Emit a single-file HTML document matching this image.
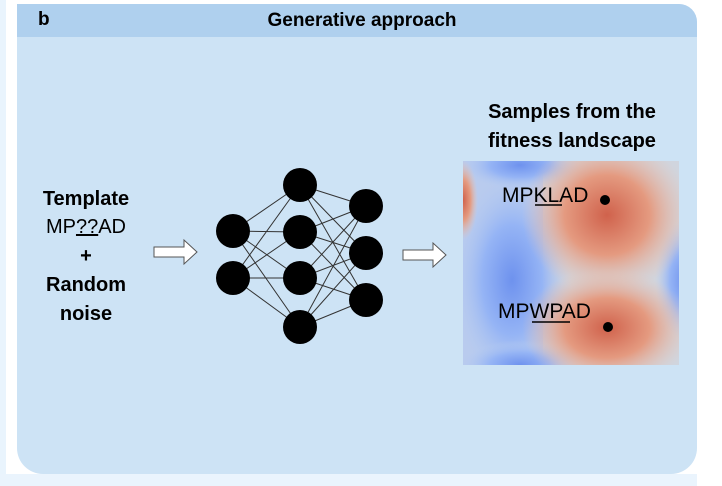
<!DOCTYPE html>
<html><head><style>
html,body{margin:0;padding:0;width:722px;height:486px;overflow:hidden;background:#fff;font-family:"Liberation Sans",sans-serif}
.strip{position:absolute;left:0;top:0;width:6px;height:486px;background:#e9f4fd}
.bot{position:absolute;left:0;top:474px;width:697px;height:12px;background:#eaf4fd}
.panel{position:absolute;left:17px;top:4px;width:680px;height:470px;background:#cde3f5;border-radius:0 18px 26px 26px;overflow:hidden}
.hdr{position:absolute;left:0;top:0;width:680px;height:33px;background:#afd0ee}
.t{position:absolute;color:#000;white-space:nowrap;font-size:20px}
.b{font-weight:bold}
</style></head><body>
<div class="strip"></div><div class="bot"></div>
<div class="panel">
<div class="hdr"></div>
<div class="t b" style="left:21px;top:5px;font-size:19px">b</div>
<div class="t b" style="left:0;width:680px;text-align:center;top:6px;font-size:19px;padding-left:10px;box-sizing:border-box">Generative approach</div>
</div>
<div class="t b" style="left:6px;width:160px;text-align:center;top:188px">Template</div>
<div class="t" style="left:6px;width:160px;text-align:center;top:216px">MP<u>??</u>AD</div>
<div class="t b" style="left:6px;width:160px;text-align:center;top:245px">+</div>
<div class="t b" style="left:6px;width:160px;text-align:center;top:274px">Random</div>
<div class="t b" style="left:6px;width:160px;text-align:center;top:303px">noise</div>
<div class="t b" style="left:462px;width:220px;text-align:center;top:101px">Samples from the</div>
<div class="t b" style="left:462px;width:220px;text-align:center;top:130px">fitness landscape</div>
<svg style="position:absolute;left:0;top:0" width="722" height="486">
<defs>
<radialGradient id="r1" cx="0.5" cy="0.5" r="0.5"><stop offset="0" stop-color="#d0624c"/><stop offset="0.5" stop-color="#e49a80"/><stop offset="1" stop-color="#e9c4b4" stop-opacity="0"/></radialGradient>
<radialGradient id="bl" cx="0.5" cy="0.5" r="0.5"><stop offset="0" stop-color="#6e92ee"/><stop offset="0.5" stop-color="#95b4f5"/><stop offset="1" stop-color="#b8cdf0" stop-opacity="0"/></radialGradient>
<clipPath id="cp"><rect x="463" y="161" width="216" height="204"/></clipPath>
</defs>
<g clip-path="url(#cp)">
<rect x="463" y="161" width="216" height="204" fill="#d0d5de"/>
<rect x="463" y="161" width="80" height="204" fill="#b9cbee"/>
<ellipse cx="512" cy="280" rx="60" ry="110" fill="url(#bl)"/>
<ellipse cx="520" cy="165" rx="60" ry="25" fill="url(#bl)"/>
<ellipse cx="520" cy="365" rx="60" ry="25" fill="url(#bl)"/>
<ellipse cx="685" cy="280" rx="30" ry="60" fill="url(#bl)"/>
<ellipse cx="607" cy="215" rx="85" ry="80" fill="url(#r1)"/>
<ellipse cx="607" cy="328" rx="85" ry="60" fill="url(#r1)"/>
<ellipse cx="463" cy="200" rx="15" ry="40" fill="url(#r1)"/>
</g>
<text x="502" y="202" font-size="21" font-family="Liberation Sans">MPKLAD</text>
<line x1="535" y1="205" x2="562" y2="205" stroke="#000" stroke-width="1.5"/>
<circle cx="605" cy="200" r="5" fill="#000"/>
<text x="498" y="318" font-size="21" font-family="Liberation Sans">MPWPAD</text>
<line x1="532" y1="322" x2="570" y2="322" stroke="#000" stroke-width="1.5"/>
<circle cx="608" cy="327" r="5" fill="#000"/>
<g stroke="#333" stroke-width="1">
<path d="M233 231L300 185M233 231L300 232M233 231L300 278M233 231L300 327M233 278L300 185M233 278L300 232M233 278L300 278M233 278L300 327"/>
<path d="M300 185L366 206M300 185L366 253M300 185L366 300M300 232L366 206M300 232L366 253M300 232L366 300M300 278L366 206M300 278L366 253M300 278L366 300M300 327L366 206M300 327L366 253M300 327L366 300"/>
</g>
<g fill="#000">
<circle cx="233" cy="231" r="17"/><circle cx="233" cy="278" r="17"/>
<circle cx="300" cy="185" r="17"/><circle cx="300" cy="232" r="17"/><circle cx="300" cy="278" r="17"/><circle cx="300" cy="327" r="17"/>
<circle cx="366" cy="206" r="17"/><circle cx="366" cy="253" r="17"/><circle cx="366" cy="300" r="17"/>
</g>
<path d="M154 247H184V240L197 252L184 264V257H154Z" fill="#fff" stroke="#555" stroke-width="1"/>
<path d="M403 250H433V243L446 255L433 267V260H403Z" fill="#fff" stroke="#555" stroke-width="1"/>
</svg>
</body></html>
